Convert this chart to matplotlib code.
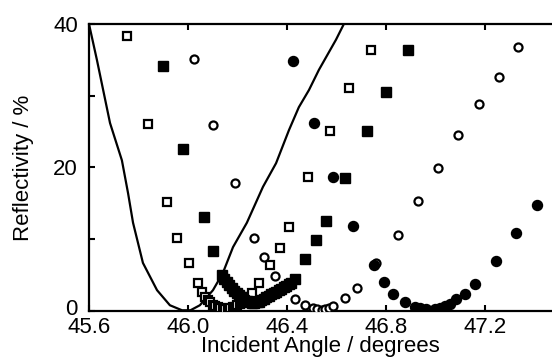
#!/usr/bin/env python3
# -*- coding: utf-8 -*-
# ============================================================================
# Title     : Reflectivity versus incident angle (SPR curves)
# ----------------------------------------------------------------------------
# Description :
#   Plots a simulated reflectivity curve (solid line) and four measured
#   series (open / filled squares and circles) against incident angle.
# ============================================================================

import matplotlib
matplotlib.use("Agg")
import matplotlib.pyplot as plt
from matplotlib.transforms import ScaledTranslation

# -----------------------------------------------------------------------------
# Data
# -----------------------------------------------------------------------------

# solid line
line_x = [45.600, 45.632, 45.685, 45.733, 45.758, 45.778, 45.818,
          45.875, 45.927, 45.976, 46.010, 46.048, 46.101, 46.141, 46.182,
          46.238, 46.303, 46.356, 46.408, 46.448, 46.489, 46.529, 46.598,
          46.630]
line_y = [40.0, 35.0, 26.2, 21.0, 16.4, 12.3, 6.7,
          2.9, 0.8, 0.1, 0.1, 0.8, 2.9, 5.3, 8.9,
          12.3, 17.3, 20.6, 25.2, 28.4, 30.8, 33.6, 37.8,
          40.0]

# open squares
osq_x = [45.754, 45.838, 45.915, 45.956, 46.004, 46.040, 46.057, 46.070,
         46.080, 46.090, 46.100, 46.110, 46.120, 46.130, 46.140, 46.150,
         46.160, 46.170, 46.180, 46.190, 46.200, 46.210, 46.220, 46.230,
         46.240, 46.259, 46.287, 46.331, 46.372, 46.408, 46.485, 46.574,
         46.651, 46.739]
osq_y = [38.3, 26.0, 15.2, 10.2, 6.7, 3.9, 2.6, 2.0,
         1.6, 1.2, 0.9, 0.7, 0.5, 0.4, 0.3, 0.3,
         0.3, 0.4, 0.5, 0.6, 0.8, 1.0, 1.3, 1.6,
         2.0, 2.5, 3.9, 6.4, 8.8, 11.7, 18.7, 25.1,
         31.1, 36.4]

# filled squares
fsq_x = [45.899, 45.980, 46.065, 46.101, 46.137, 46.147, 46.157, 46.167,
         46.177, 46.187, 46.197, 46.207, 46.217, 46.227, 46.237, 46.247,
         46.257, 46.267, 46.277, 46.287, 46.297, 46.307, 46.317, 46.327,
         46.337, 46.347, 46.357, 46.367, 46.377, 46.387, 46.397, 46.407,
         46.416, 46.432, 46.473, 46.517, 46.558, 46.634, 46.723, 46.800,
         46.889]
fsq_y = [34.1, 22.6, 13.1, 8.4, 5.0, 4.5, 4.0, 3.6,
         3.2, 2.8, 2.5, 2.2, 1.9, 1.6, 1.4, 1.2,
         1.1, 1.1, 1.2, 1.3, 1.5, 1.7, 1.9, 2.1,
         2.3, 2.5, 2.7, 2.9, 3.1, 3.3, 3.5, 3.7,
         3.9, 4.5, 7.2, 9.9, 12.5, 18.5, 25.1, 30.5,
         36.4]

# open circles
oci_x = [46.024, 46.101, 46.190, 46.267, 46.307, 46.352, 46.432, 46.473,
         46.505, 46.521, 46.540, 46.554, 46.570, 46.586, 46.634, 46.683,
         46.760, 46.848, 46.929, 47.010, 47.091, 47.176, 47.257, 47.333]
oci_y = [35.1, 25.9, 17.8, 10.2, 7.5, 4.9, 1.7, 0.8,
         0.4, 0.3, 0.2, 0.3, 0.4, 0.7, 1.8, 3.2,
         6.7, 10.6, 15.3, 19.9, 24.5, 28.9, 32.6, 36.8]

# filled circles
fci_x = [46.424, 46.509, 46.586, 46.667, 46.752, 46.792, 46.828, 46.877,
         46.917, 46.937, 46.962, 46.978, 46.998, 47.018, 47.038, 47.059,
         47.083, 47.119, 47.160, 47.244, 47.325, 47.410]
fci_y = [34.8, 26.2, 18.7, 11.8, 6.4, 4.0, 2.4, 1.3,
         0.6, 0.4, 0.3, 0.0, 0.3, 0.4, 0.7, 1.0,
         1.7, 2.4, 3.8, 7.0, 10.9, 14.8]

x_ticks = [45.6, 46.0, 46.4, 46.8, 47.2]
x_tick_labels = ["45.6", "46.0", "46.4", "46.8", "47.2"]
y_ticks = [0, 10, 20, 30, 40]
y_tick_labels = ["0", "", "20", "", "40"]


def main() -> None:
    plt.rcParams["font.family"] = ["Liberation Sans", "DejaVu Sans"]

    fig = plt.figure(figsize=(5.52, 3.58), dpi=100)
    ax = fig.add_axes([0.1612, 0.1313, 0.8388, 0.8017])

    ax.plot(line_x, line_y, color="black", lw=1.6, zorder=2)

    ax.plot(osq_x, osq_y, ls="none", marker="s", ms=6.2, mfc="white",
            mec="black", mew=1.6, zorder=3)
    ax.plot(fsq_x, fsq_y, ls="none", marker="s", ms=7.0, mfc="black",
            mec="black", zorder=3)
    ax.plot(oci_x, oci_y, ls="none", marker="o", ms=5.8, mfc="white",
            mec="black", mew=1.6, zorder=3)
    ax.plot(fci_x, fci_y, ls="none", marker="o", ms=7.2, mfc="black",
            mec="black", zorder=3)

    ax.set_xlim(45.6, 47.471)
    ax.set_ylim(0, 40)

    ax.set_xticks(x_ticks)
    ax.set_xticklabels(x_tick_labels)
    ax.set_yticks(y_ticks)
    ax.set_yticklabels(y_tick_labels)

    ax.tick_params(axis="x", direction="in", top=True, length=4, width=1.5,
                   labelsize=16, pad=4)
    ax.tick_params(axis="y", direction="in", right=False, length=4, width=1.5,
                   labelsize=16, pad=8)

    # lift the "0" label a little so it sits clear of "45.6"
    zero_label = ax.get_yticklabels()[0]
    zero_label.set_transform(zero_label.get_transform()
                             + ScaledTranslation(0, 3 / 72, fig.dpi_scale_trans))

    for side in ["left", "bottom", "top"]:
        ax.spines[side].set_linewidth(1.6)
    ax.spines["right"].set_visible(False)

    ax.set_xlabel("Incident Angle / degrees", fontsize=16, labelpad=-1)
    ax.set_ylabel("Reflectivity / %", fontsize=16, labelpad=14)

    fig.savefig("out.png", dpi=100)


if __name__ == "__main__":
    main()
